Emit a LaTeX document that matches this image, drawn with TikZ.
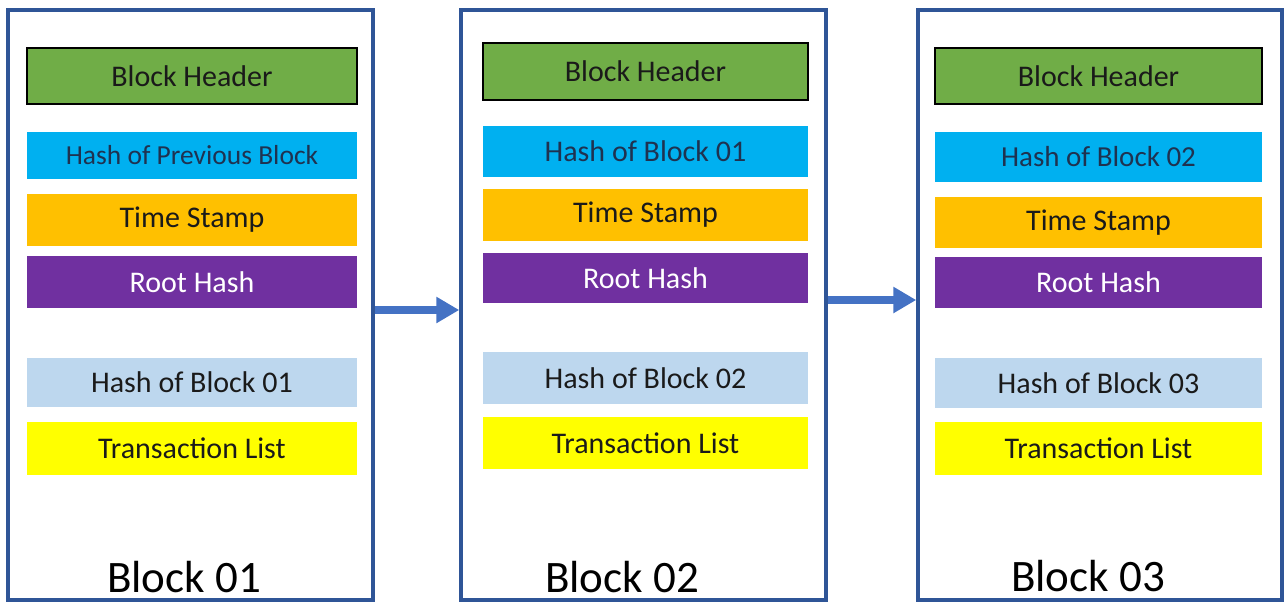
\documentclass[tikz,border=0pt]{standalone}
\usepackage{fontspec}
\setmainfont{Carlito}
\usetikzlibrary{arrows.meta}
\definecolor{frameblue}{HTML}{2F5597}
\definecolor{arrowblue}{HTML}{4472C4}
\definecolor{hdrgreen}{HTML}{70AD47}
\definecolor{hashcyan}{HTML}{00B0F0}
\definecolor{timeorange}{HTML}{FFC000}
\definecolor{rootpurple}{HTML}{7030A0}
\definecolor{blkpale}{HTML}{BDD7EE}
\definecolor{txyellow}{HTML}{FFFF00}
\definecolor{inkdark}{HTML}{1A1A1A}
\definecolor{inknavy}{HTML}{1F3250}
\tikzset{
  blockframe/.style={draw=frameblue, line width=3.5pt, fill=white, inner sep=0pt},
  strip/.style={inner sep=0pt, font=\fontsize{30}{34}\selectfont, text=inkdark},
  header/.style={strip, fill=hdrgreen, draw=black, line width=2.2pt},
  prevhash/.style={strip, fill=hashcyan, text=inknavy},
  timestamp/.style={strip, fill=timeorange},
  roothash/.style={strip, fill=rootpurple, text=white},
  ownhash/.style={strip, fill=blkpale},
  txlist/.style={strip, fill=txyellow},
  blocklabel/.style={inner sep=0pt, font=\fontsize{45}{50}\selectfont, text=black},
  link/.style={draw=arrowblue, line width=8pt,
    -{Triangle[width=25pt,length=23pt]}}
}
\begin{document}
\begin{tikzpicture}[x=1pt, y=-1pt]
\useasboundingbox (0,0) rectangle (1287,603);

% outer block frames
\node[blockframe, minimum width=365pt, minimum height=590pt] (b1) at (190.5,305) {};
\node[blockframe, minimum width=365pt, minimum height=590pt] (b2) at (643.5,305) {};
\node[blockframe, minimum width=364pt, minimum height=590pt] (b3) at (1100,305) {};

% Block 01
\node[header, minimum width=330pt, minimum height=56pt] (h1) at (192,76) {Block Header};
\node[prevhash, minimum width=330pt, minimum height=47pt, font=\fontsize{27.5}{31}\selectfont] (p1) at (192,155.5) {Hash of Previous Block};
\node[timestamp, minimum width=330pt, minimum height=52pt] (t1) at (192,220) {Time Stamp};
\node[roothash, minimum width=330pt, minimum height=52pt] (r1) at (192,282) {Root Hash};
\node[ownhash, minimum width=330pt, minimum height=49pt] (o1) at (192,382.5) {Hash of Block 01};
\node[txlist, minimum width=330pt, minimum height=53pt] (x1) at (192,448.5) {Transaction List};
\node[blocklabel] (l1) at (184,577) {Block 01};

% Block 02
\node[header, minimum width=325pt, minimum height=57pt] (h2) at (645.5,71.5) {Block Header};
\node[prevhash, minimum width=325pt, minimum height=51pt] (p2) at (645.5,151.5) {Hash of Block 01};
\node[timestamp, minimum width=325pt, minimum height=52pt] (t2) at (645.5,215) {Time Stamp};
\node[roothash, minimum width=325pt, minimum height=50pt] (r2) at (645.5,278) {Root Hash};
\node[ownhash, minimum width=325pt, minimum height=52pt] (o2) at (645.5,378) {Hash of Block 02};
\node[txlist, minimum width=325pt, minimum height=52pt] (x2) at (645.5,443) {Transaction List};
\node[blocklabel] (l2) at (622,577) {Block 02};

% Block 03
\node[header, minimum width=327pt, minimum height=56pt] (h3) at (1098.5,76) {Block Header};
\node[prevhash, minimum width=327pt, minimum height=50pt, font=\fontsize{29}{33}\selectfont] (p3) at (1098.5,157) {Hash of Block 02};
\node[timestamp, minimum width=327pt, minimum height=51pt] (t3) at (1098.5,222.5) {Time Stamp};
\node[roothash, minimum width=327pt, minimum height=51pt] (r3) at (1098.5,282.5) {Root Hash};
\node[ownhash, minimum width=327pt, minimum height=50pt] (o3) at (1098.5,383) {Hash of Block 03};
\node[txlist, minimum width=327pt, minimum height=53pt] (x3) at (1098.5,448.5) {Transaction List};
\node[blocklabel] (l3) at (1088,576) {Block 03};

% chain links
\draw[link] ([yshift=-5pt]b1.east) -- ([yshift=-5pt]b2.west);
\draw[link] ([yshift=5pt]b2.east) -- ([yshift=5pt]b3.west);
\end{tikzpicture}
\end{document}
